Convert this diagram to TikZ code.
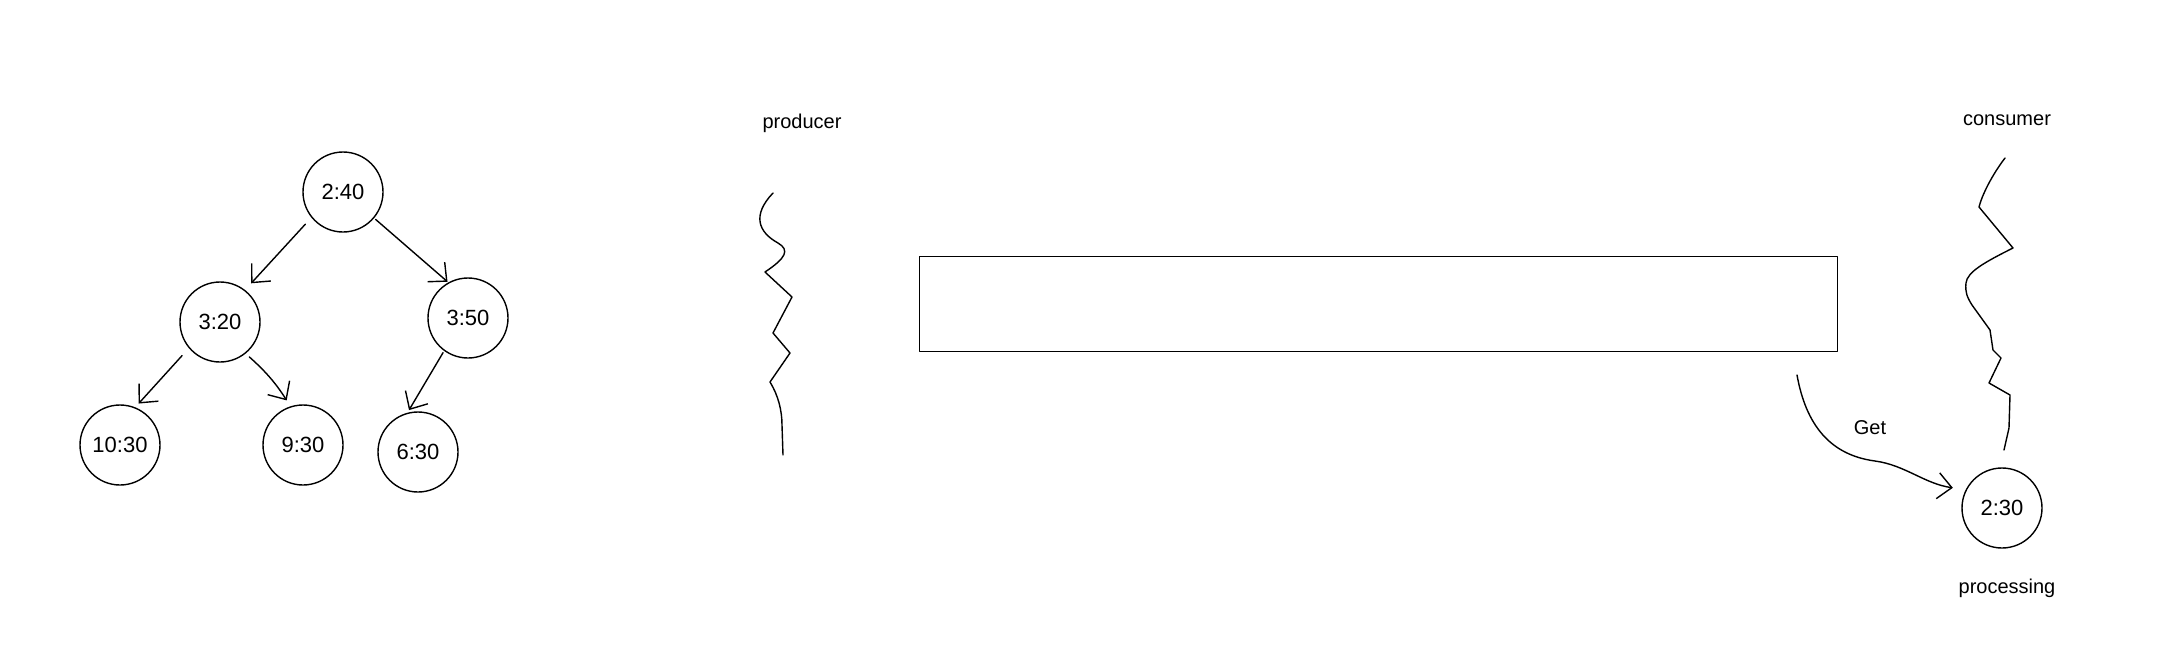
\documentclass[tikz,border=0pt]{standalone}
\usepackage{fontspec}
\setmainfont{Liberation Sans}
\usetikzlibrary{arrows.meta}
\begin{document}
\begin{tikzpicture}[x=0.5pt,y=-0.5pt,
  line width=0.7pt, line cap=round, line join=round,
  tnode/.style={draw, circle, minimum size=40pt, inner sep=0pt, font=\fontsize{11}{12}\selectfont},
  lbl/.style={font=\fontsize{10}{12}\selectfont},
  arr/.style={-{Straight Barb[length=7pt,width=13pt,line width=0.7pt]}},
  squig/.style={line width=0.7pt}
]
\useasboundingbox (0,0) rectangle (2181,644);

% tree
\node[tnode] (root) at (343,192) {2:40};
\node[tnode] (c1) at (220,322) {3:20};
\node[tnode] (c2) at (468,318) {3:50};
\node[tnode] (g1) at (120,445) {10:30};
\node[tnode] (g2) at (303,445) {9:30};
\node[tnode] (g3) at (418,452) {6:30};

\draw[arr, shorten <=4.5pt, shorten >=4.5pt] (root.-141) -- (c1.52);
\draw[arr, shorten <=1pt, shorten >=0.5pt] (root.-40) -- (c2.119);
\draw[arr, shorten <=5pt, shorten >=2.5pt] (c1.-140) -- (g1.68);
\draw[arr, shorten <=2.5pt, shorten >=3.5pt] (c1.-51) to[bend left=8] (g2.108);
\draw[arr, shorten <=1pt, shorten >=1.5pt] (c2.-126) -- (g3.105);

% producer
\node[lbl] (prod) at (802,123) {producer};
\draw[squig] (773,193) .. controls (752,215) and (758,232) .. (778,243)
  .. controls (790,250) and (786,258) .. (765,272) -- (792,297) -- (773,333)
  -- (790,353) -- (770,382) .. controls (778,395) and (782,410) .. (782,425) -- (783,455);

% buffer
\node[draw, minimum width=459pt, minimum height=47.5pt, inner sep=0pt, line width=0.5pt] (buf) at (1378,303.5) {};

% consumer
\node[lbl] (cons) at (2007,120) {consumer};
\draw[squig] (2005,158) .. controls (1992,175) and (1982,195) .. (1979,207) -- (2013,248)
  .. controls (1985,262) and (1967,272) .. (1966,283) .. controls (1965,292) and (1967,297) .. (1972,305)
  -- (1990,330) -- (1993,350) -- (2001,358) -- (1989,383) -- (2010,395) -- (2009,428) -- (2004,450);

% processing
\node[tnode] (proc) at (2002,508) {2:30};
\node[lbl] (procl) at (2007,588) {processing};

% get arrow
\coordinate (gs) at (1797,375);
\draw[arr, shorten >=6.5pt] (gs) .. controls (1806,425) and (1830,455) .. (1875,461)
  .. controls (1905,465) and (1925,484) .. (proc.153);
\node[lbl] (get) at (1870,428) {Get};
\end{tikzpicture}
\end{document}
